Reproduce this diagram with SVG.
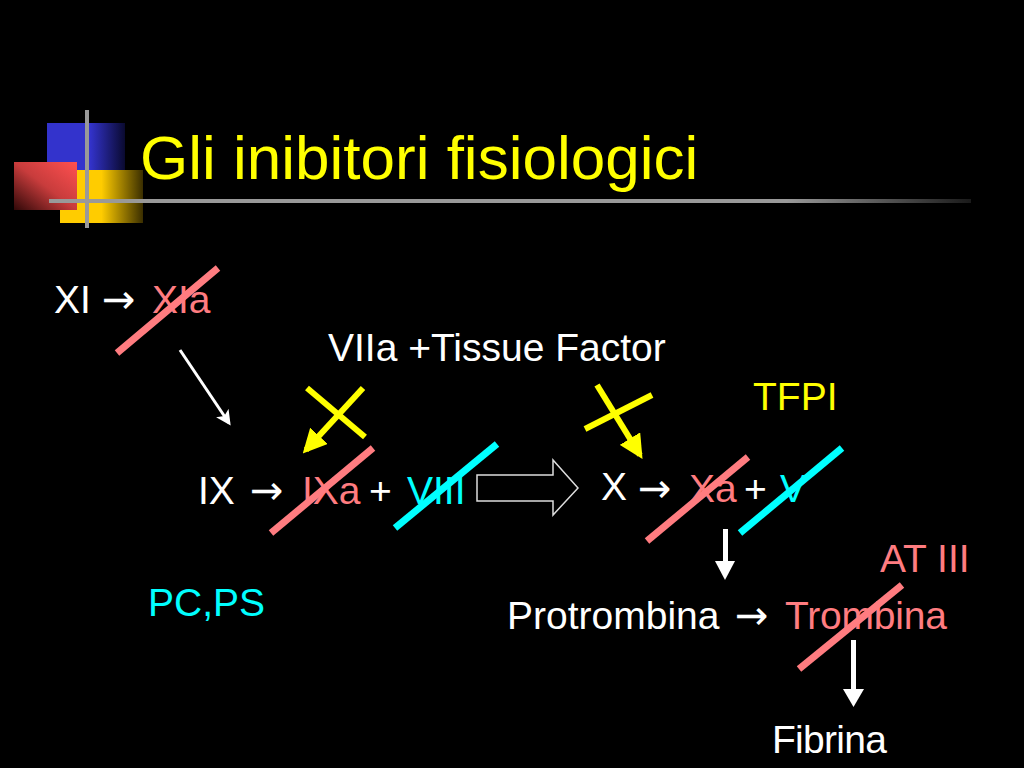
<svg xmlns="http://www.w3.org/2000/svg" width="1024" height="768" viewBox="0 0 1024 768">
<defs>
<style>
.t{font-family:"Liberation Sans",Arial,sans-serif;font-size:39px}
.ar{font-family:"DejaVu Sans",sans-serif;font-size:40px}
.w{fill:#FFFFFF}.p{fill:#FF7C80}.c{fill:#00FFFF}.y{fill:#FFFF00}
.sp{stroke:#FF7C80;stroke-width:7;fill:none}
.sc{stroke:#00FFFF;stroke-width:7;fill:none}
.sy{stroke:#FFFF00;stroke-width:6;fill:none}
.sw{stroke:#FFFFFF;stroke-width:3;fill:none}
</style>
<linearGradient id="gBlue" x1="0" y1="0" x2="1" y2="0">
<stop offset="0" stop-color="#3333CC"/><stop offset="0.55" stop-color="#3333CC"/><stop offset="1" stop-color="#0A0A30"/>
</linearGradient>
<linearGradient id="gYel" x1="0" y1="0" x2="1" y2="0">
<stop offset="0" stop-color="#FFCC00"/><stop offset="0.5" stop-color="#FFCC00"/><stop offset="1" stop-color="#3A2E00"/>
</linearGradient>
<linearGradient id="gRed" x1="1" y1="0" x2="0" y2="1">
<stop offset="0" stop-color="#FF5050"/><stop offset="0.5" stop-color="#C83C3C"/><stop offset="1" stop-color="#300808"/>
</linearGradient>
<linearGradient id="gLine" x1="0" y1="0" x2="1" y2="0">
<stop offset="0" stop-color="#999999"/><stop offset="0.8" stop-color="#999999"/><stop offset="1" stop-color="#1A1A1A"/>
</linearGradient>
<marker id="aw" markerWidth="5" markerHeight="5" refX="4" refY="2.5" orient="auto" markerUnits="strokeWidth">
<path d="M0,0 L5,2.5 L0,5 L1.2,2.5 Z" fill="#FFFFFF"/>
</marker>
<marker id="ay" markerWidth="4" markerHeight="4" refX="3.2" refY="2" orient="auto" markerUnits="strokeWidth">
<path d="M0,0 L4,2 L0,4 Z" fill="#FFFF00"/>
</marker>
</defs>
<rect x="0" y="0" width="1024" height="768" fill="#000000"/>

<g id="decor">
<rect x="47" y="123" width="78" height="55" fill="url(#gBlue)"/>
<rect x="60" y="170" width="83" height="53" fill="url(#gYel)"/>
<rect x="14" y="162" width="63" height="48" fill="url(#gRed)"/>
<rect x="85" y="110" width="4" height="118" fill="#999999"/>
<rect x="49" y="199" width="922" height="4" fill="url(#gLine)"/>
</g>

<g id="title">
<text x="140" y="179" style="font-family:'Liberation Sans',Arial,sans-serif;font-size:62px" class="y">Gli inibitori fisiologici</text>
</g>

<g id="node-XI">
<text class="t w" x="54" y="313">XI</text>
<text class="ar w" x="102" y="313">→</text>
<text class="t p" x="152" y="313">XIa</text>
</g>

<g id="node-VIIa">
<text class="t w" x="328" y="361">VIIa +Tissue Factor</text>
</g>

<g id="node-TFPI">
<text class="t y" x="753" y="410">TFPI</text>
</g>

<g id="node-IX">
<text class="t w" x="198" y="504">IX</text>
<text class="ar w" x="250" y="504">→</text>
<text class="t p" x="302" y="504">IXa</text>
<text class="t w" x="369" y="504">+</text>
<text class="t c" x="407" y="504">VIII</text>
</g>

<g id="node-X">
<text class="t w" x="601" y="500">X</text>
<text class="ar w" x="638" y="502">→</text>
<text class="t p" x="689" y="502">Xa</text>
<text class="t w" x="744" y="502">+</text>
<text class="t c" x="780" y="502">V</text>
</g>

<g id="node-PCPS">
<text class="t c" x="148" y="616">PC,PS</text>
</g>

<g id="node-ATIII">
<text class="t p" x="880" y="572">AT III</text>
</g>

<g id="node-protrombina">
<text class="t w" x="507" y="629">Protrombina</text>
<text class="ar w" x="735" y="629">→</text>
<text class="t p" x="785" y="629" textLength="162">Trombina</text>
</g>

<g id="node-fibrina">
<text class="t w" x="772" y="753" textLength="115">Fibrina</text>
</g>

<g id="connectors">
<line class="sp" x1="117" y1="353" x2="218" y2="268"/>
<line class="sp" x1="271" y1="533" x2="373" y2="448"/>
<line class="sc" x1="395" y1="528" x2="497" y2="444"/>
<line class="sp" x1="647" y1="541" x2="748" y2="457"/>
<line class="sc" x1="740" y1="533" x2="842" y2="448"/>
<line class="sp" x1="799" y1="669" x2="902" y2="585"/>
<line class="sw" x1="180" y1="350" x2="229" y2="423" marker-end="url(#aw)"/>
<line class="sy" x1="307" y1="388" x2="365" y2="437"/>
<line class="sy" x1="363" y1="388" x2="306" y2="450" marker-end="url(#ay)"/>
<line class="sy" x1="585" y1="429" x2="652" y2="395"/>
<line class="sy" x1="597" y1="385" x2="640" y2="455" marker-end="url(#ay)"/>
<path d="M477,475 L553,475 L553,460 L578,488 L553,515 L553,501 L477,501 Z" fill="none" stroke="#DDDDDD" stroke-width="1.5"/>
<rect x="723" y="529" width="5" height="33" fill="#FFFFFF"/>
<path d="M715,561 L735,561 L725,580 Z" fill="#FFFFFF"/>
<rect x="851" y="640" width="5" height="51" fill="#FFFFFF"/>
<path d="M843,689 L864,689 L853.5,707 Z" fill="#FFFFFF"/>
</g>
</svg>
